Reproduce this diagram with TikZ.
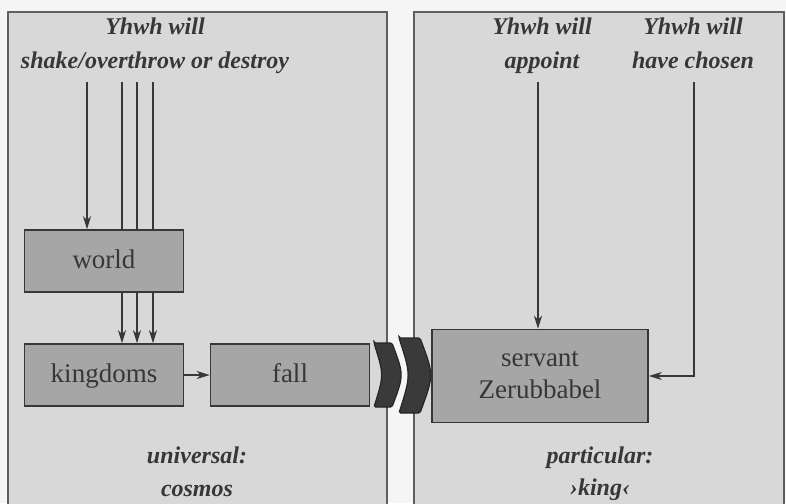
\documentclass[tikz,border=0pt]{standalone}
\usepackage{fontspec}
\setmainfont{Liberation Serif}
\usetikzlibrary{arrows.meta}
\definecolor{panelfill}{RGB}{216,216,216}
\definecolor{boxfill}{RGB}{166,166,166}
\definecolor{ink}{RGB}{55,55,55}
\definecolor{chevfill}{RGB}{58,58,58}
\begin{document}
\begin{tikzpicture}[x=1pt,y=-1pt,
  panel/.style={draw=ink!80,line width=1.2pt,fill=panelfill},
  itlabel/.style={text=ink,font=\fontsize{24}{34}\selectfont\bfseries\itshape,anchor=base,inner sep=0pt},
  boxnode/.style={draw=ink,line width=1.6pt,fill=boxfill,inner sep=0pt},
  boxtext/.style={text=ink,font=\fontsize{27}{32}\selectfont,anchor=base,inner sep=0pt},
  conn/.style={draw=ink,line width=1.6pt},
  arr/.style={conn,-{Stealth[length=13pt,width=8pt,inset=4pt]}},
  chev/.style={fill=chevfill,draw=black!85,line width=1.2pt,rounded corners=1.5pt}]
\useasboundingbox (0,0) rectangle (786,503);
\fill[white!96!black] (0,0) rectangle (786,503);
\begin{scope}
\clip (0,0) rectangle (786,503);
\draw[panel] (8,12) rectangle (387,515);
\draw[panel] (414,12) rectangle (784,515);
\end{scope}

% left panel texts
\node[itlabel] (ltop1) at (155,35) {Yhwh will};
\node[itlabel] (ltop2) at (155,68) {shake/overthrow or destroy};
\node[itlabel] (lbot1) at (197,463) {universal:};
\node[itlabel] (lbot2) at (197,496) {cosmos};

% left boxes
\node[boxnode,minimum width=159pt,minimum height=62pt] (world) at (104,261) {};
\node[boxnode,minimum width=159pt,minimum height=62pt] (kingdoms) at (104,375) {};
\node[boxnode,minimum width=159pt,minimum height=62pt] (fall) at (290,375) {};
\node[boxtext] (worldt) at (104,268) {world};
\node[boxtext] (kingdomst) at (104,382) {kingdoms};
\node[boxtext] (fallt) at (290,382) {fall};

\coordinate (s1) at (87,82);
\coordinate (s2) at (122,82);
\coordinate (s3) at (137,82);
\coordinate (s4) at (153,82);

\draw[arr] (s1) -- (s1 |- world.north);
\foreach \s in {s2,s3,s4}{
  \draw[conn] (\s) -- (\s |- world.north);
  \draw[arr] (\s |- world.south) -- (\s |- kingdoms.north);
}
\draw[arr] (kingdoms.east) -- (fall.west);

% chevrons
\path[chev] (374,343) -- (392,343) .. controls (404,375) .. (392,407) -- (374,407) .. controls (384,375) .. (374,343) -- cycle;
\path[chev] (399,338) -- (420,338) .. controls (434,375) .. (420,413) -- (399,413) .. controls (411,375) .. (399,338) -- cycle;

% right panel texts
\node[itlabel] (rtop1a) at (542,35) {Yhwh will};
\node[itlabel] (rtop1b) at (542,68) {appoint};
\node[itlabel] (rtop2a) at (693,35) {Yhwh will};
\node[itlabel] (rtop2b) at (693,68) {have chosen};
\node[itlabel] (rbot1) at (600,463) {particular:};
\node[itlabel] (rbot2) at (600,495) {›king‹};

\node[boxnode,minimum width=216pt,minimum height=93pt] (servant) at (540,376) {};
\node[boxtext] (servantt1) at (540,366) {servant};
\node[boxtext] (servantt2) at (540,398) {Zerubbabel};

\coordinate (a1) at (538,82);
\coordinate (a2) at (694,82);
\draw[arr] (a1) -- (a1 |- servant.north);
\draw[arr] (a2) |- (servant.east);
\end{tikzpicture}
\end{document}
